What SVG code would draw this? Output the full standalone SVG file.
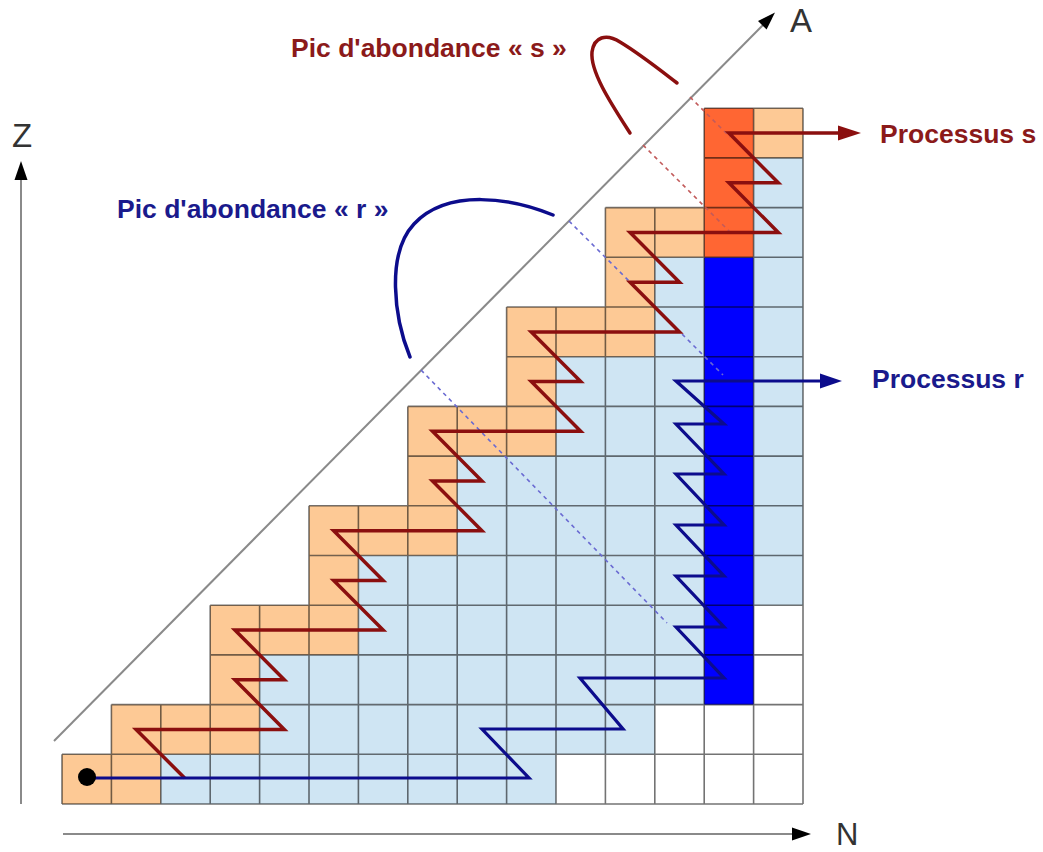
<svg xmlns="http://www.w3.org/2000/svg" width="1043" height="852" viewBox="0 0 1043 852">
<style>
.o{fill:#fdc995}.l{fill:#cfe5f3}.b{fill:#0000ff}.r{fill:#ff6633}.w{fill:#ffffff}
.grid{fill:none;stroke:#000;stroke-opacity:0.55;stroke-width:1.6}
.axis{fill:none;stroke:#8a8a8a;stroke-width:2}
.lab{font-family:"Liberation Sans",Arial,sans-serif;font-size:33px;fill:#333}
.tr{font-family:"Liberation Sans",Arial,sans-serif;font-weight:bold;font-size:26.5px;fill:#1a1a8c}
.ts{font-family:"Liberation Sans",Arial,sans-serif;font-weight:bold;font-size:26.5px;fill:#8b1a1a}
.rp{fill:none;stroke:#8b0f0f;stroke-width:3.5;stroke-linejoin:miter;stroke-miterlimit:10}
.bp{fill:none;stroke:#0c0c8c;stroke-width:3.2;stroke-linejoin:miter;stroke-miterlimit:10}
.rd{fill:none;stroke:#c25a5a;stroke-width:1.6;stroke-dasharray:4 4}
.bd{fill:none;stroke:#6a6ad2;stroke-width:1.6;stroke-dasharray:4 4}
</style>
<rect width="1043" height="852" fill="#fff"/>
<g id="cells">
<rect class="o" x="62" y="754.3" width="98.8" height="49.7"/>
<rect class="l" x="160.8" y="754.3" width="395.2" height="49.7"/>
<rect class="w" x="556" y="754.3" width="247" height="49.7"/>
<rect class="o" x="111.4" y="704.6" width="148.2" height="49.7"/>
<rect class="l" x="259.6" y="704.6" width="395.2" height="49.7"/>
<rect class="o" x="210.2" y="654.9" width="49.4" height="49.7"/>
<rect class="l" x="259.6" y="654.9" width="444.6" height="49.7"/>
<rect class="o" x="210.2" y="605.2" width="148.2" height="49.7"/>
<rect class="l" x="358.4" y="605.2" width="345.8" height="49.7"/>
<rect class="o" x="309" y="555.5" width="49.4" height="49.7"/>
<rect class="l" x="358.4" y="555.5" width="345.8" height="49.7"/>
<rect class="o" x="309" y="505.8" width="148.2" height="49.7"/>
<rect class="l" x="457.2" y="505.8" width="247" height="49.7"/>
<rect class="o" x="407.8" y="456.1" width="49.4" height="49.7"/>
<rect class="l" x="457.2" y="456.1" width="247" height="49.7"/>
<rect class="o" x="407.8" y="406.4" width="148.2" height="49.7"/>
<rect class="l" x="556" y="406.4" width="148.2" height="49.7"/>
<rect class="o" x="506.6" y="356.7" width="49.4" height="49.7"/>
<rect class="l" x="556" y="356.7" width="148.2" height="49.7"/>
<rect class="o" x="506.6" y="307" width="148.2" height="49.7"/>
<rect class="l" x="654.8" y="307" width="49.4" height="49.7"/>
<rect class="o" x="605.4" y="257.3" width="49.4" height="49.7"/>
<rect class="l" x="654.8" y="257.3" width="49.4" height="49.7"/>
<rect class="o" x="605.4" y="207.6" width="98.8" height="49.7"/>
<rect class="b" x="704.2" y="257.3" width="49.4" height="447.3"/>
<rect class="r" x="704.2" y="108.2" width="49.4" height="149.1"/>
<rect class="l" x="753.6" y="157.9" width="49.4" height="447.3"/>
<rect class="o" x="753.6" y="108.2" width="49.4" height="49.7"/>
</g>
<g id="grid">
<path class="grid" d="M62,804H803M62,754.3H803M111.4,704.6H803M210.2,654.9H803M210.2,605.2H803M309,555.5H803M309,505.8H803M407.8,456.1H803M407.8,406.4H803M506.6,356.7H803M506.6,307H803M605.4,257.3H803M605.4,207.6H803M704.2,157.9H803M704.2,108.2H803
M62,804V754.3M111.4,804V704.6M160.8,804V704.6M210.2,804V605.2M259.6,804V605.2M309,804V505.8M358.4,804V505.8M407.8,804V406.4M457.2,804V406.4M506.6,804V307M556,804V307M605.4,804V207.6M654.8,804V207.6M704.2,804V108.2M753.6,804V108.2M803,804V108.2"/>
</g>
<g id="axes">
<line class="axis" x1="21" y1="804" x2="21" y2="178"/>
<polygon points="21,161 14.5,180 27.5,180" fill="#000"/>
<line class="axis" x1="63" y1="834" x2="794" y2="834"/>
<polygon points="811,834 792,827.5 792,840.5" fill="#000"/>
<line class="axis" x1="54" y1="741" x2="763" y2="25" stroke-width="1.6"/>
<polygon points="775,12.5 766.6,29.5 758,21.1" fill="#000"/>
<text class="lab" x="790" y="32">A</text>
<text class="lab" x="12" y="146.5">Z</text>
<text class="lab" x="836" y="845" style="font-size:31px">N</text>
</g>
<g id="connectors">
<path class="rd" d="M690,97L730,137M643,145L730,232"/>
<path class="bd" d="M421,370L667,623M569,221L723,375"/>
<path class="rp" d="M184.6,778L136.1,729.5H284.3L234.9,679.8H284.3L234.9,630.1H383.1L333.7,580.4H383.1L333.7,530.7H481.9L432.5,481H481.9L432.5,431.3H580.7L531.3,381.6H580.7L531.3,331.9H679.5L630.1,282.2H679.5L630.1,232.5H778.3L728.9,182.8H778.3L728.9,133.1H840"/>
<polygon points="838,125.6 861,133.1 838,140.6" fill="#8b0f0f"/>
<path class="bp" d="M87,778H529L482,729H623L580,678H724L676,627H724L676,576H724L676,525H724L676,474H724L676,424H724L676,381H822"/>
<polygon points="820,373.5 842,381 820,388.5" fill="#0c0c8c"/>
<circle cx="87" cy="777" r="9" fill="#000"/>
</g>
<g id="peak-r">
<path d="M553,215C512,198 448,188 414,224C386,254 394,318 410,357" fill="none" stroke="#0c0c8c" stroke-width="3.5" stroke-linecap="round"/>
<text class="tr" x="117" y="218">Pic d'abondance « r »</text>
</g>
<g id="peak-s">
<path d="M630,133C612,105 590,72 592,52C594,37 606,33 620,42C640,54 660,70 677,83" fill="none" stroke="#8b0f0f" stroke-width="3.5" stroke-linecap="round"/>
<text class="ts" x="291" y="57">Pic d'abondance « s »</text>
</g>
<g id="process-s"><text class="ts" x="880" y="143">Processus s</text></g>
<g id="process-r"><text class="tr" x="872" y="388">Processus r</text></g>
</svg>
